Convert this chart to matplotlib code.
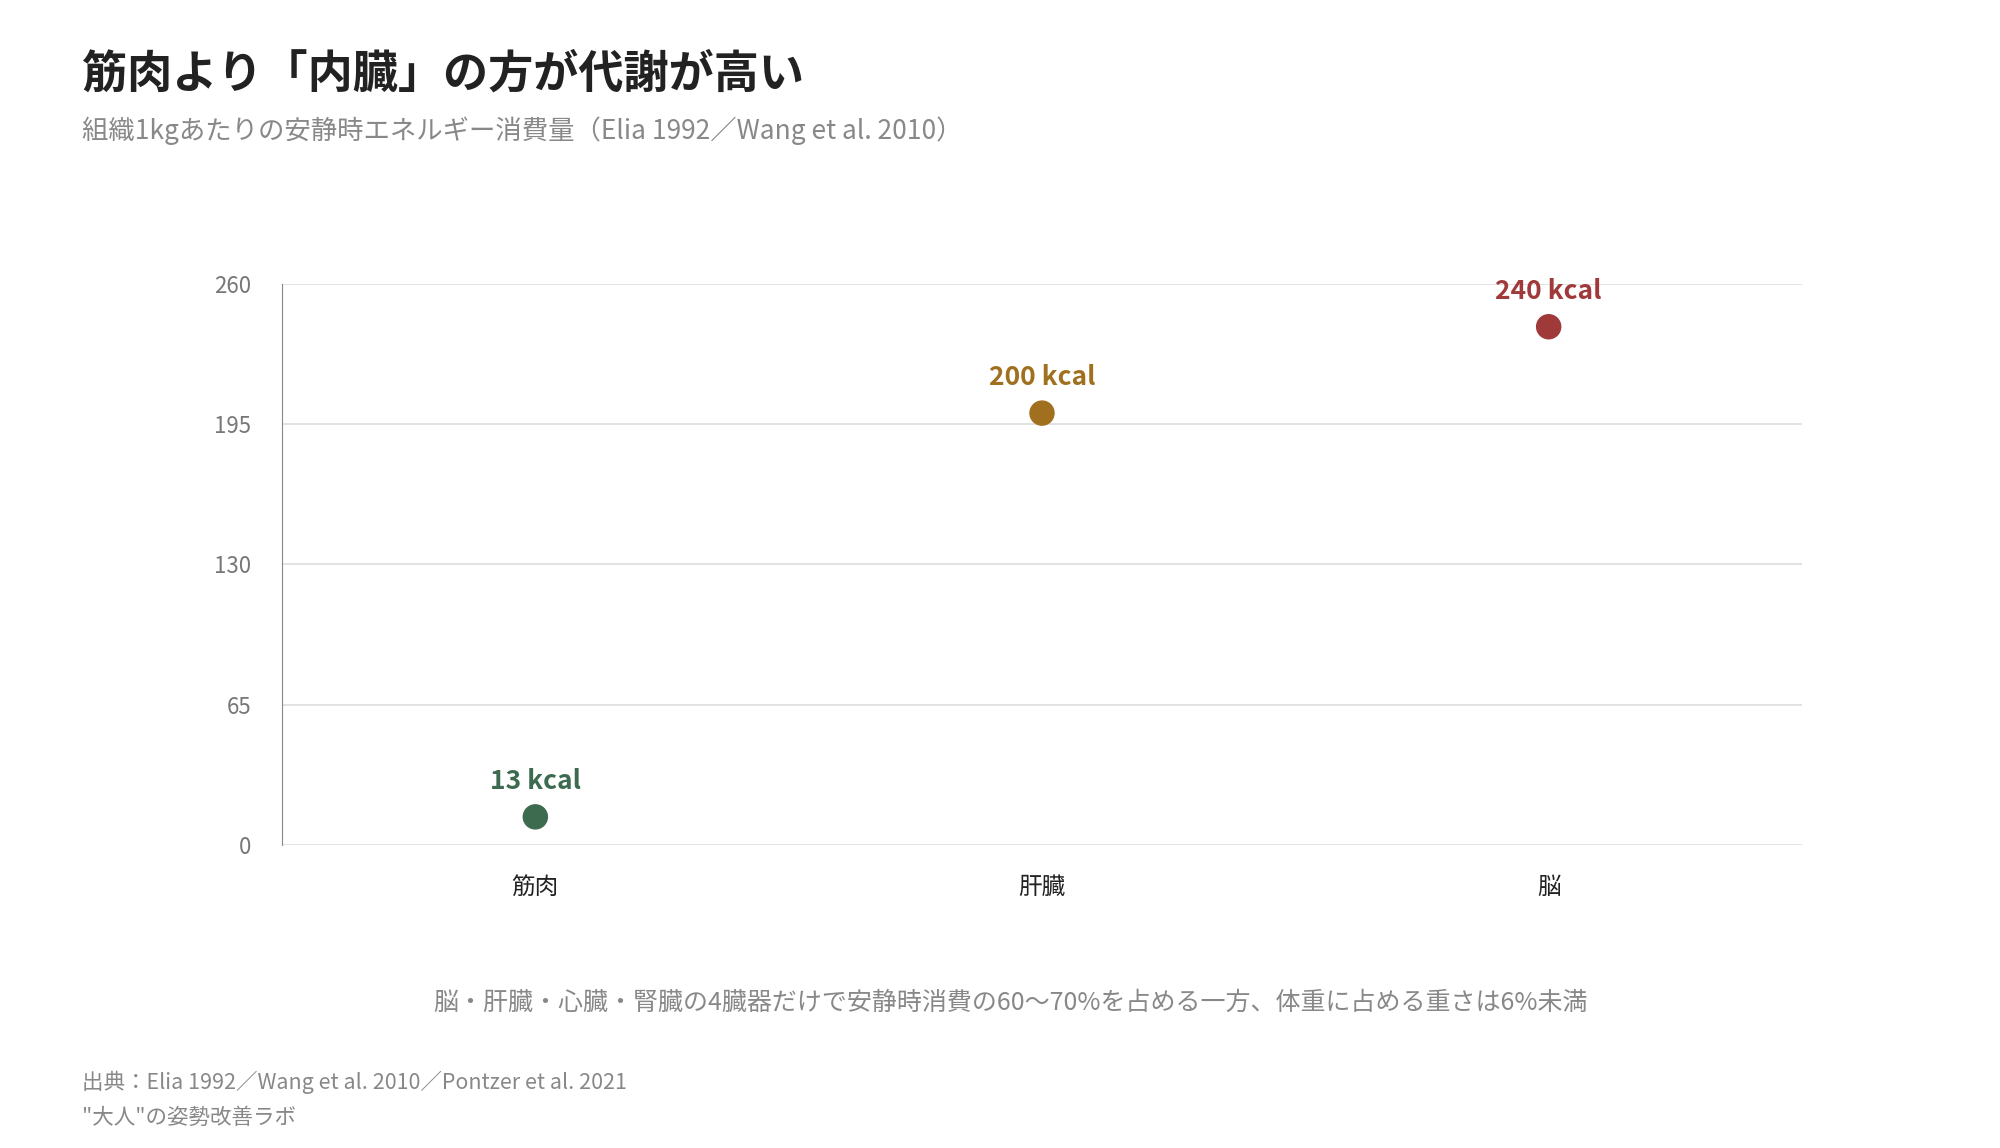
import matplotlib
matplotlib.use("Agg")
from matplotlib import pyplot as plt

plt.rcParams['font.family'] = ['Noto Sans CJK JP', 'DejaVu Sans']

categories = ["筋肉", "肝臓", "脳"]
kcal_per_kg = [13, 200, 240]
point_labels = ["13 kcal", "200 kcal", "240 kcal"]
colors = ["#3d6b4f", "#a0701f", "#a0393a"]
yticks = [0, 65, 130, 195, 260]

fig = plt.figure(figsize=(20, 11.48), dpi=100)
ax = fig.add_axes([0.141, 0.264, 0.760, 0.489])

xs = list(range(len(categories)))
ax.scatter(xs, kcal_per_kg, s=300, c=colors, zorder=3)
for x, v, lab, c in zip(xs, kcal_per_kg, point_labels, colors):
    ax.annotate(lab, (x, v), xytext=(0, 16), textcoords="offset points",
                ha="center", va="bottom", fontsize=19, fontweight="bold", color=c)

ax.set_xlim(-0.5, 2.5)
ax.set_ylim(0, 260)
ax.set_yticks(yticks)
ax.set_xticks(xs)
ax.set_xticklabels(categories, fontsize=17, color="#222222")
ax.tick_params(axis="y", length=0, labelsize=16, labelcolor="#777777", pad=22)
ax.tick_params(axis="x", length=0, pad=22)
ax.grid(axis="y", color="#dddddd", linewidth=1.2)
ax.set_axisbelow(True)
for s in ["top", "right", "bottom"]:
    ax.spines[s].set_visible(False)
ax.spines["left"].set_color("#888888")

fig.text(0.041, 0.935, "筋肉より「内臓」の方が代謝が高い", fontsize=32.5, fontweight="bold",
         color="#222222", va="center")
fig.text(0.041, 0.886, "組織1kgあたりの安静時エネルギー消費量（Elia 1992／Wang et al. 2010）",
         fontsize=19, color="#888888", va="center")
fig.text(0.505, 0.126, "脳・肝臓・心臓・腎臓の4臓器だけで安静時消費の60〜70%を占める一方、体重に占める重さは6%未満",
         fontsize=18, color="#888888", ha="center", va="center")
fig.text(0.041, 0.057, "出典：Elia 1992／Wang et al. 2010／Pontzer et al. 2021",
         fontsize=15.5, color="#888888", va="center")
fig.text(0.041, 0.026, "\"大人\"の姿勢改善ラボ", fontsize=15.5, color="#888888", va="center")

fig.savefig("out.png")
